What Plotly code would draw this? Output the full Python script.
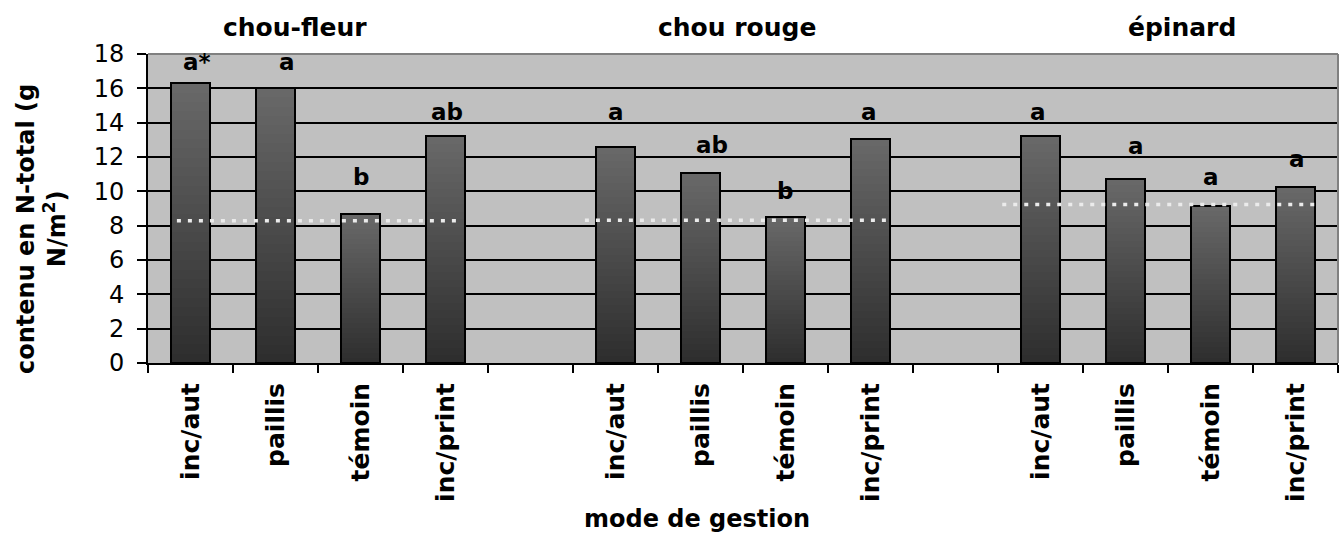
import plotly.graph_objects as go

# ---------------- data ----------------
groups = ["chou-fleur", "chou rouge", "épinard"]
treatments = ["inc/aut", "paillis", "témoin", "inc/print"]
values_choufleur = [16.3, 16.0, 8.7, 13.2]
values_chourouge = [12.6, 11.05, 8.5, 13.05]
values_epinard = [13.2, 10.7, 9.15, 10.25]
letters_choufleur = ["a*", "a", "b", "ab"]
letters_chourouge = ["a", "ab", "b", "a"]
letters_epinard = ["a", "a", "a", "a"]
ref_levels = [8.28, 8.32, 9.24]          # dotted reference level per crop
y_ticks = [0, 2, 4, 6, 8, 10, 12, 14, 16, 18]
y_title = "contenu en N-total (g<br>N/m<sup>2</sup>)"
x_title = "mode de gestion"

# ---------------- layout helpers (positions / styles) ----------------
label_y = [[17.55, 17.55, 10.85, 14.65],
           [14.65, 12.7, 10.0, 14.65],
           [14.65, 12.65, 10.85, 11.9]]
label_xshift = [[6, 11, 0, 1],
                [0, 11, -1, -2],
                [-3, 10, 0, 1]]
title_x = [1.23, 6.43, 11.66]            # category-index positions of crop titles
ref_span = [(-0.16, 3.2), (4.64, 8.23), (9.55, 13.26)]

values = [values_choufleur, values_chourouge, values_epinard]
letters = [letters_choufleur, letters_chourouge, letters_epinard]

cats = []
for gi, g in enumerate(groups):
    if gi > 0:
        cats.append(f"gap{gi}")
    for t in treatments:
        cats.append(f"{g}|{t}")
ticktext = [" " if c.startswith("gap") else f"<b>{c.split('|')[1]}</b>" for c in cats]

bar_x = [f"{g}|{t}" for g in groups for t in treatments]
bar_y = [v for vals in values for v in vals]

FONT = "DejaVu Sans"
fig = go.Figure()

# gradient bars: stacked overlapping layers, dark at bottom -> lighter at top
N = 30
c_bot, c_top = 0x2e, 0x6a
for k in range(N):
    frac = k / N
    c = round(c_bot + (c_top - c_bot) * frac)
    fig.add_trace(go.Bar(
        x=bar_x, y=[v * (1 - frac) for v in bar_y], base=[v * frac for v in bar_y],
        width=0.45, marker=dict(color=f"rgb({c},{c},{c})", line=dict(width=0)),
        showlegend=False, hoverinfo="skip"))
# outline
fig.add_trace(go.Bar(
    x=bar_x, y=bar_y, width=0.45,
    marker=dict(color="rgba(0,0,0,0)", line=dict(color="black", width=2)),
    showlegend=False))

plot_top, plot_h = 54, 309
annotations = []
shapes = []
for gi, g in enumerate(groups):
    for ti, t in enumerate(treatments):
        annotations.append(dict(
            x=f"{g}|{t}", y=label_y[gi][ti], xref="x", yref="y",
            text=f"<b>{letters[gi][ti]}</b>", showarrow=False,
            xshift=label_xshift[gi][ti],
            font=dict(family=FONT, size=23, color="black")))
    annotations.append(dict(
        x=title_x[gi], y=1 + (plot_top - 28) / plot_h, xref="x", yref="paper",
        yanchor="middle", text=f"<b>{g}</b>", showarrow=False,
        font=dict(family=FONT, size=25, color="black")))
    shapes.append(dict(
        type="line", xref="x", yref="y", x0=ref_span[gi][0], x1=ref_span[gi][1],
        y0=ref_levels[gi], y1=ref_levels[gi], layer="above",
        line=dict(color="#ebebeb", width=3.5, dash="4px,7px")))

annotations.append(dict(
    x=(41 - 148) / 1190, y=(363 - 229) / plot_h, xref="paper", yref="paper",
    text=f"<b>{y_title}</b>", textangle=-90, showarrow=False,
    xanchor="center", yanchor="middle",
    font=dict(family=FONT, size=24, color="black")))
annotations.append(dict(
    x=(697 - 148) / 1190, y=(363 - 519) / plot_h, xref="paper", yref="paper",
    text=f"<b>{x_title}</b>", showarrow=False,
    xanchor="center", yanchor="middle",
    font=dict(family=FONT, size=24, color="black")))

# top / right border of plot area
shapes.append(dict(type="line", xref="paper", yref="paper", x0=0, x1=1, y0=1, y1=1,
                   layer="above", line=dict(color="#808080", width=2)))
shapes.append(dict(type="line", xref="paper", yref="paper", x0=1, x1=1, y0=0, y1=1,
                   layer="above", line=dict(color="#808080", width=2)))

fig.update_layout(
    width=1339, height=533,
    margin=dict(l=148, r=1, t=54, b=170),
    paper_bgcolor="white", plot_bgcolor="#c0c0c0",
    barmode="overlay", bargap=0,
    annotations=annotations, shapes=shapes,
    showlegend=False,
    xaxis=dict(
        type="category", categoryorder="array", categoryarray=cats,
        tickmode="array", tickvals=cats, ticktext=ticktext,
        tickson="boundaries", ticks="outside", ticklen=8, tickwidth=2, tickcolor="black",
        tickangle=-90, tickfont=dict(family=FONT, size=25, color="black"),
        ticklabelstandoff=8,
        showline=True, linecolor="black", linewidth=2, showgrid=False,
        range=[-0.5, len(cats) - 0.5], fixedrange=True),
    yaxis=dict(
        range=[0, 18], tickmode="array", tickvals=y_ticks,
        ticks="outside", ticklen=9, tickwidth=2, tickcolor="black",
        tickfont=dict(family=FONT, size=24, color="black"),
        ticklabelstandoff=8,
        showline=True, linecolor="black", linewidth=2,
        showgrid=True, gridcolor="black", gridwidth=2, zeroline=False),
)

fig.write_html("out.html")
